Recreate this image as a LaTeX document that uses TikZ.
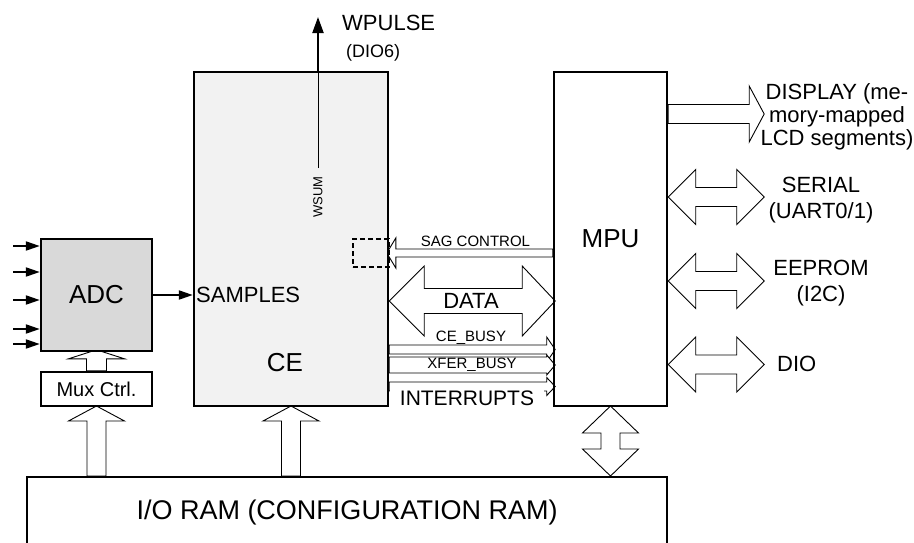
\documentclass[tikz,border=0pt]{standalone}
\usepackage{fontspec}
\setmainfont{Liberation Sans}
\usetikzlibrary{arrows.meta,backgrounds}

% 文字サイズ
\newcommand{\fsz}[2]{\fontsize{#1}{#2}\selectfont}
% 中抜きバス矢印 (長さ, 軸の半幅, 頭の半幅, 頭の長さ)
\newcommand{\busarrow}[4]{%
  \draw[bus] (0,#2) -- ({#1-#4},#2) -- ({#1-#4},#3) -- (#1,0)
    -- ({#1-#4},-#3) -- ({#1-#4},-#2) -- (0,-#2) -- cycle;}
% 両方向バス矢印 (長さ, 軸の半幅, 頭の半幅, 左の頭, 右の頭)
\newcommand{\busdouble}[5]{%
  \draw[bus] (0,0) -- (#4,#3) -- (#4,#2) -- ({#1-#5},#2) -- ({#1-#5},#3) -- (#1,0)
    -- ({#1-#5},-#3) -- ({#1-#5},-#2) -- (#4,-#2) -- (#4,-#3) -- cycle;}

\begin{document}
\begin{tikzpicture}[x=1pt, y=-1pt, >={Triangle[length=14pt,width=9pt]},
  every node/.style={inner sep=0pt},
  box/.style={draw, line width=2.4pt},
  bus/.style={draw, fill=white, line width=0.9pt},
  sig/.style={->, line width=2pt},
  big/.style={font=\fsz{26}{30}},
  mid/.style={font=\fsz{22}{26}},
  small/.style={font=\fsz{15}{18}}]
  \useasboundingbox (0,0) rectangle (914,542);

  % 1. ブロック
  \node[box, big, fill=black!15, minimum width=111pt, minimum height=112pt] (adc) at (96.5,295) {ADC};
  \node[box, font=\fsz{20}{24}, minimum width=111pt, minimum height=34pt] (mux) at (96.5,389) {Mux Ctrl.};
  \node[box, fill=black!5, minimum width=194pt, minimum height=334pt] (ce) at (291,239) {};
  \node[box, big, minimum width=113pt, minimum height=334pt] (mpu) at (610.5,239) {MPU};
  \node[box, minimum width=640pt, minimum height=140pt, anchor=north] (ram) at (347,476) {};
  \node[font=\fsz{27}{30}] (ramlabel) at (347,513) {I/O RAM (CONFIGURATION RAM)};
  \node[big] (celabel) at (285,363) {CE};
  \node[mid, anchor=west] (samples) at (196,295) {SAMPLES};
  \node[draw, dash pattern=on 5pt off 3pt, line width=1.6pt,
        minimum width=36pt, minimum height=28pt] (sagbox) at (371,253) {};

  % 2. バス矢印
  \begin{pgfonlayer}{background}
    % Mux Ctrl. -> ADC
    \begin{scope}[shift={(mux.north)}, rotate=90] \busarrow{21}{10}{28}{9} \end{scope}
    % RAM -> Mux Ctrl., CE
    \begin{scope}[shift={(mux.south |- ram.north)}, rotate=90] \busarrow{70}{9.5}{28}{15} \end{scope}
    \begin{scope}[shift={(ce.south |- ram.north)}, rotate=90] \busarrow{70}{9.5}{28}{15} \end{scope}
    % RAM <-> MPU
    \begin{scope}[shift={(mpu.south |- ram.north)}, rotate=90] \busdouble{70}{9.5}{28}{27}{27} \end{scope}
    % MPU -> CE
    \begin{scope}[shift={(mpu.west |- 0,253)}, rotate=180] \busarrow{166}{4}{15}{9} \end{scope}
    \begin{scope}[shift={(ce.east |- 0,301)}] \busdouble{166}{12.5}{35}{35}{33} \end{scope}
    % CE -> MPU
    \begin{scope}[shift={(ce.east |- 0,349.5)}] \busarrow{166}{4.5}{12.5}{8.5} \end{scope}
    \begin{scope}[shift={(ce.east |- 0,365)}] \busarrow{166}{8}{10}{8.5} \end{scope}
    \begin{scope}[shift={(ce.east |- 0,386.5)}] \busarrow{166}{4.5}{9}{8.5} \end{scope}
    % MPU -> 外部
    \begin{scope}[shift={(mpu.east |- 0,114)}] \busarrow{96}{9.5}{28}{15} \end{scope}
    \foreach \y in {197,281,364.5} {
      \begin{scope}[shift={(mpu.east |- 0,\y)}] \busdouble{96}{9.5}{27.5}{27.5}{27.5} \end{scope}
    }
  \end{pgfonlayer}

  % 3. 信号線
  \foreach \y [count=\i] in {246,272,300,329,344} {
    \coordinate (in\i) at (13,\y);
    \draw[sig] (in\i) -- (in\i -| adc.west);
  }
  \draw[sig] (adc.east) -- (adc.east -| ce.west);
  \coordinate (wsum) at (318,168);
  \coordinate (wpulse) at (318,17);
  \draw[line width=0.9pt] (wsum) -- (wsum |- ce.north);
  \draw[-{Triangle[length=16pt,width=11pt]}, line width=2pt] (wsum |- ce.north) -- (wpulse);

  % 4. ラベル
  \node[font=\fsz{13}{15}, rotate=90] (wsumlabel) at (318,197) {WSUM};
  \node[mid, anchor=west] (wpulselabel) at (342,23) {WPULSE};
  \node[font=\fsz{18}{22}, anchor=west] (diolabel6) at (346,53) {(DIO6)};
  \node[small] (saglabel) at (475.5,241) {SAG CONTROL};
  \node[mid] (datalabel) at (471,301) {DATA};
  \node[small] (cebusy) at (471,338) {CE\_BUSY};
  \node[small] (xferbusy) at (472,365) {XFER\_BUSY};
  \node[font=\fsz{21}{24}, fill=white, minimum width=154pt, minimum height=18pt] (interrupts) at (467,398) {INTERRUPTS};
  \node[font=\fsz{22}{23}, align=center] (display) at (837,117) {DISPLAY (me-\\mory-mapped\\LCD segments)};
  \node[mid, align=center] (serial) at (821,200) {SERIAL\\(UART0/1)};
  \node[mid, align=center] (eeprom) at (821,283.5) {EEPROM\\(I2C)};
  \node[mid, anchor=west] (dio) at (777,364) {DIO};

\end{tikzpicture}
\end{document}
